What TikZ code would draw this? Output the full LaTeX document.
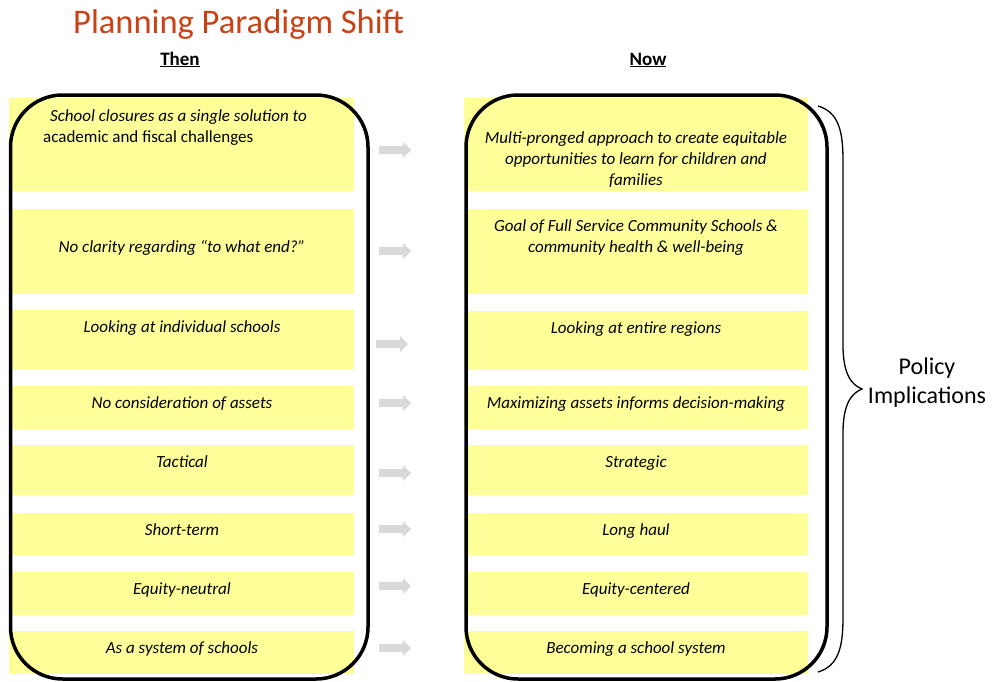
\documentclass[tikz,border=0pt]{standalone}
\usepackage{fontspec}
\setmainfont{Carlito}
\usetikzlibrary{shapes.arrows}
\definecolor{boxyellow}{RGB}{255,255,153}
\definecolor{arrowgray}{RGB}{217,217,217}
\definecolor{titlered}{RGB}{200,66,22}
\tikzset{
  ybox/.style={fill=boxyellow, draw=none, anchor=north west, inner sep=0pt, outer sep=0pt, minimum width=#1},
  ybox/.default=345pt,
  txt/.style={font=\fontsize{17}{21}\selectfont\itshape, anchor=base, inner sep=0pt},
  frame/.style={draw=black, line width=3.5pt, rounded corners=52pt, inner sep=0pt, minimum width=#1, minimum height=584pt},
  garrow/.style={single arrow, fill=arrowgray, draw=none, minimum height=32pt, single arrow head extend=4pt, inner xsep=0pt, inner ysep=4pt, outer sep=0pt, anchor=west},
  head/.style={font=\fontsize{19}{23}\selectfont\bfseries, anchor=base, inner sep=0pt},
  brace/.style={draw=black, line width=1.3pt}
}
\begin{document}
\begin{tikzpicture}[x=1pt,y=-1pt]
\useasboundingbox (0,0) rectangle (994,681);
% yellow boxes left
\node[ybox, minimum height=93pt] (L1) at (9,98) {};
\node[ybox, minimum height=85pt] (L2) at (9,209) {};
\node[ybox, minimum height=59pt] (L3) at (9,310) {};
\node[ybox, minimum height=43pt] (L4) at (9,386) {};
\node[ybox, minimum height=50pt] (L5) at (9,445) {};
\node[ybox, minimum height=42pt] (L6) at (9,513) {};
\node[ybox, minimum height=43pt] (L7) at (9,572) {};
\node[ybox, minimum height=43pt] (L8) at (9,631) {};
% yellow boxes right
\node[ybox=344pt, minimum height=93pt] (R1) at (464,98) {};
\node[ybox=344pt, minimum height=85pt] (R2) at (464,209) {};
\node[ybox=344pt, minimum height=59pt] (R3) at (464,311) {};
\node[ybox=344pt, minimum height=43pt] (R4) at (464,386) {};
\node[ybox=344pt, minimum height=50pt] (R5) at (464,445) {};
\node[ybox=344pt, minimum height=42pt] (R6) at (464,513) {};
\node[ybox=344pt, minimum height=43pt] (R7) at (464,572) {};
\node[ybox=344pt, minimum height=43pt] (R8) at (464,631) {};
% frames
\node[frame=357.5pt] (frameL) at (189.25,387) {};
\node[frame=361pt] (frameR) at (646.5,387) {};
% arrows
\node[garrow] (A1) at (379,150) {};
\node[garrow] (A2) at (379,251) {};
\node[garrow] (A3) at (376,344) {};
\node[garrow] (A4) at (379,403) {};
\node[garrow] (A5) at (379,473) {};
\node[garrow] (A6) at (379,529) {};
\node[garrow] (A7) at (379,586) {};
\node[garrow] (A8) at (379,648) {};
% title and headers
\node[font=\fontsize{34.5}{40}\selectfont, text=titlered, anchor=base west, inner sep=0pt] (title) at (73,33) {Planning Paradigm Shift};
\node[head] (then) at (180,65) {\underline{Then}};
\node[head] (now) at (648,65) {\underline{Now}};
% left texts
\node[txt, anchor=base west] (tL1a) at (50,121) {School closures as a single solution to};
\node[txt, anchor=base west, font=\fontsize{17}{21}\selectfont\upshape] (tL1b) at (43,142) {academic and fiscal challenges};
\node[txt] (tL2) at (182,252) {No clarity regarding “to what end?”};
\node[txt] (tL3) at (182,332) {Looking at individual schools};
\node[txt] (tL4) at (182,408) {No consideration of assets};
\node[txt] (tL5) at (182,467) {Tactical};
\node[txt] (tL6) at (182,535) {Short-term};
\node[txt] (tL7) at (182,594) {Equity-neutral};
\node[txt] (tL8) at (182,653) {As a system of schools};
% right texts
\node[txt] (tR1a) at (636,143) {Multi-pronged approach to create equitable};
\node[txt] (tR1b) at (636,164) {opportunities to learn for children and};
\node[txt] (tR1c) at (636,185) {families};
\node[txt] (tR2a) at (636,231) {Goal of Full Service Community Schools \&};
\node[txt] (tR2b) at (636,252) {community health \& well-being};
\node[txt] (tR3) at (636,333) {Looking at entire regions};
\node[txt] (tR4) at (636,408) {Maximizing assets informs decision-making};
\node[txt] (tR5) at (636,467) {Strategic};
\node[txt] (tR6) at (636,535) {Long haul};
\node[txt] (tR7) at (636,594) {Equity-centered};
\node[txt] (tR8) at (636,653) {Becoming a school system};
% brace
\coordinate (btop) at (818,106);
\coordinate (btip) at (862,389);
\coordinate (bbot) at (818,672);
\draw[brace] (btop) .. controls (838,112) and (843,130) .. (843,160) -- (843,345)
  .. controls (843,375) and (852,385) .. (btip)
  .. controls (852,393) and (843,403) .. (843,433) -- (843,618)
  .. controls (843,648) and (838,666) .. (bbot);
% policy implications
\node[font=\fontsize{24}{29}\selectfont, anchor=base, inner sep=0pt] (pol1) at (927,374) {Policy};
\node[font=\fontsize{24}{29}\selectfont, anchor=base, inner sep=0pt] (pol2) at (927,403) {Implications};
\end{tikzpicture}
\end{document}
